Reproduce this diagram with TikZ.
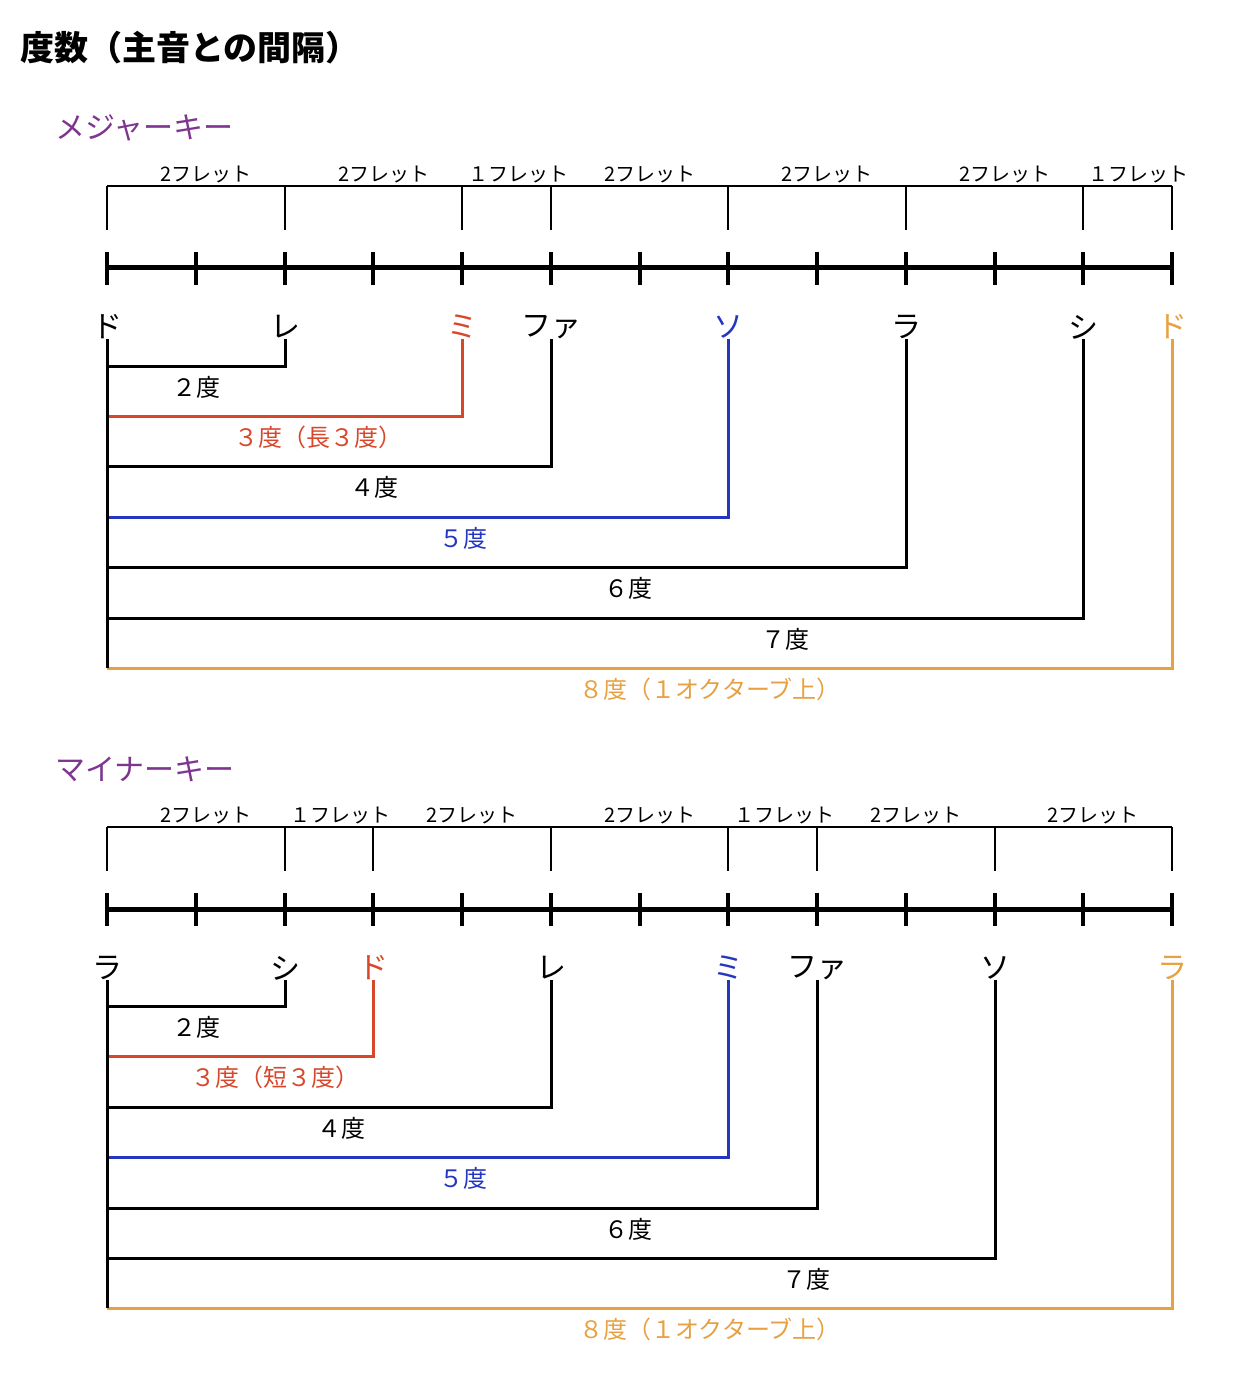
\documentclass[tikz,border=0pt]{standalone}
\usepackage{fontspec}
\setmainfont{Noto Sans CJK JP}
\definecolor{cred}{HTML}{D9472B}
\definecolor{cblue}{HTML}{2436C0}
\definecolor{corange}{HTML}{E8A040}
\definecolor{cpurple}{HTML}{7E3590}
\begin{document}
\begin{tikzpicture}[x=1pt,y=-1pt,
  note/.style={font=\fontsize{30}{30}\selectfont,inner sep=0pt,anchor=center},
  lab/.style={font=\fontsize{24}{24}\selectfont,inner sep=0pt},
  fret/.style={font=\fontsize{20}{20}\selectfont,inner sep=0pt},
  iv/.style={line width=3pt},
  br/.style={line width=1.3pt},
  fl/.style={line width=5pt}]
\useasboundingbox (0,0) rectangle (1252,1396);
\node[anchor=west,inner sep=0pt,font=\fontsize{34}{34}\selectfont\bfseries] (title) at (20,48) {度数（主音との間隔）};
\node[anchor=west,inner sep=0pt,font=\fontsize{30}{30}\selectfont,text=cpurple] (hmaj) at (55,128) {メジャーキー};
\node[anchor=west,inner sep=0pt,font=\fontsize{30}{30}\selectfont,text=cpurple] (hmin) at (55,769) {マイナーキー};
\foreach \o/\br/\fr in {0/{107,285,462,551,728,906,1083,1172}/{206/2,384/2,518/１,650/2,827/2,1005/2,1138/１},
                        641/{107,285,373,551,728,817,995,1172}/{206/2,340/１,472/2,650/2,784/１,916/2,1093/2}}{
  \draw[fl] (107,268+\o) -- (1172,268+\o);
  \foreach \i in {0,...,12} \draw[line width=4pt] (107+88.75*\i,252+\o) -- (107+88.75*\i,285+\o);
  \draw[br] (107,186+\o) -- (1172,186+\o);
  \foreach \x in \br \draw[br] (\x,186+\o) -- (\x,230+\o);
  \foreach \x/\n in \fr \node[fret] at (\x,175+\o) {\n フレット};
}
\foreach \n/\x/\t/\c in {a/107/ド/black,b/285/レ/black,c/462/ミ/cred,d/551/ファ/black,e/728/ソ/cblue,f/906/ラ/black,g/1083/シ/black,h/1172/ド/corange}
  \node[note,text=\c] (M\n) at (\x,327) {\t};
\foreach \n/\x/\t/\c in {a/107/ラ/black,b/285/シ/black,c/373/ド/cred,d/551/レ/black,e/728/ミ/cblue,f/817/ファ/black,g/995/ソ/black,h/1172/ラ/corange}
  \node[note,text=\c] (m\n) at (\x,968) {\t};
\foreach \n/\y/\c/\lx/\t in {b/366/black/196/２度,c/416/cred/318/３度（長３度）,d/466/black/374/４度,e/517/cblue/463/５度,f/567/black/628/６度,g/618/black/785/７度,h/668/corange/710/８度（１オクターブ上）}{
  \coordinate (Mc\n) at (107,\y);
  \draw[iv,draw=\c] (M\n.south) |- (Mc\n);
  \node[lab,text=\c] at (\lx,\y+21) {\t};
}
\draw[iv] (Ma.south) -- (Mch);
\foreach \n/\y/\c/\lx/\t in {b/1006/black/196/２度,c/1056/cred/275/３度（短３度）,d/1107/black/341/４度,e/1157/cblue/463/５度,f/1208/black/628/６度,g/1258/black/806/７度,h/1308/corange/710/８度（１オクターブ上）}{
  \coordinate (mc\n) at (107,\y);
  \draw[iv,draw=\c] (m\n.south) |- (mc\n);
  \node[lab,text=\c] at (\lx,\y+21) {\t};
}
\draw[iv] (ma.south) -- (mch);
\end{tikzpicture}
\end{document}
